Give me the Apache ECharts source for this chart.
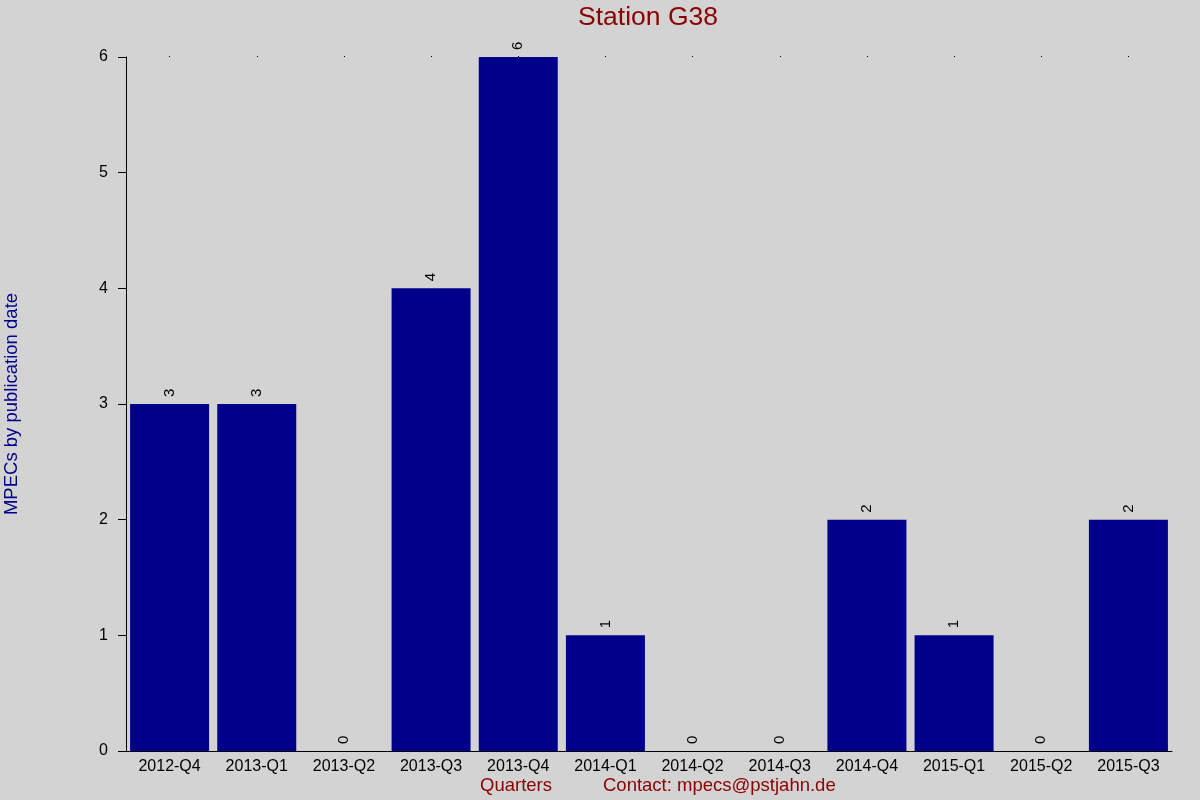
<!DOCTYPE html>
<html>
<head>
<meta charset="utf-8">
<script src="https://cdn.jsdelivr.net/npm/echarts@6/dist/echarts.min.js"></script>
<style>
  html, body { margin: 0; padding: 0; background: #d3d3d3; }
  #main { width: 1200px; height: 800px; }
</style>
</head>
<body>
<div id="main"></div>
<script>
var quarters = ['2012-Q4', '2013-Q1', '2013-Q2', '2013-Q3', '2013-Q4', '2014-Q1',
                '2014-Q2', '2014-Q3', '2014-Q4', '2015-Q1', '2015-Q2', '2015-Q3'];
var mpecs = [3, 3, 0, 4, 6, 1, 0, 0, 2, 1, 0, 2];

(function () {
    var chart = echarts.init(document.getElementById('main'));
    var font = 'Liberation Sans, Arial, sans-serif';

    var option = {
        backgroundColor: '#d3d3d3',
        animation: false,
        textStyle: { fontFamily: font },
        grid: { left: 126, right: 28, top: 57, bottom: 49, containLabel: false, outerBoundsMode: 'none' },
        graphic: [
            {
                type: 'text', x: 648, y: 18,
                style: { text: 'Station G38', fill: '#8b0000', font: '26.5px ' + font,
                         textAlign: 'center', textVerticalAlign: 'middle' }
            },
            {
                type: 'text', x: 516, y: 786,
                style: { text: 'Quarters', fill: '#8b0000', font: '18.5px ' + font,
                         textAlign: 'center', textVerticalAlign: 'middle' }
            },
            {
                type: 'text', x: 603, y: 786,
                style: { text: 'Contact: mpecs@pstjahn.de', fill: '#8b0000', font: '18.5px ' + font,
                         textAlign: 'left', textVerticalAlign: 'middle' }
            }
        ],
        xAxis: [
            {
                type: 'category',
                data: quarters,
                axisLine: { lineStyle: { color: '#000', width: 1 } },
                axisTick: { show: false },
                axisLabel: { color: '#000', fontSize: 16, margin: 8, interval: 0 },
                splitLine: { show: false }
            },
            {
                // the small dots along the top edge
                type: 'category',
                position: 'top',
                data: quarters,
                axisLine: { show: false },
                axisTick: { show: true, alignWithLabel: true, length: 1,
                            lineStyle: { color: '#000', width: 1 } },
                axisLabel: { show: false }
            }
        ],
        yAxis: {
            type: 'value',
            min: 0,
            max: 6,
            interval: 1,
            name: 'MPECs by publication date',
            nameLocation: 'middle',
            nameGap: 105,
            nameTextStyle: { color: '#00008b', fontSize: 18.5 },
            axisLine: { show: true, lineStyle: { color: '#000', width: 1 } },
            axisTick: { show: true, inside: false, length: 8, lineStyle: { color: '#000' } },
            axisLabel: { color: '#000', fontSize: 16, margin: 18 },
            splitLine: { show: false }
        },
        series: [
            {
                type: 'bar',
                data: mpecs,
                barWidth: 79,
                itemStyle: { color: '#00008b' },
                label: {
                    show: true,
                    position: 'top',
                    distance: 7,
                    rotate: 90,
                    align: 'left',
                    verticalAlign: 'middle',
                    color: '#000',
                    fontSize: 15
                }
            }
        ]
    };

    chart.setOption(option);
})();
</script>
</body>
</html>
